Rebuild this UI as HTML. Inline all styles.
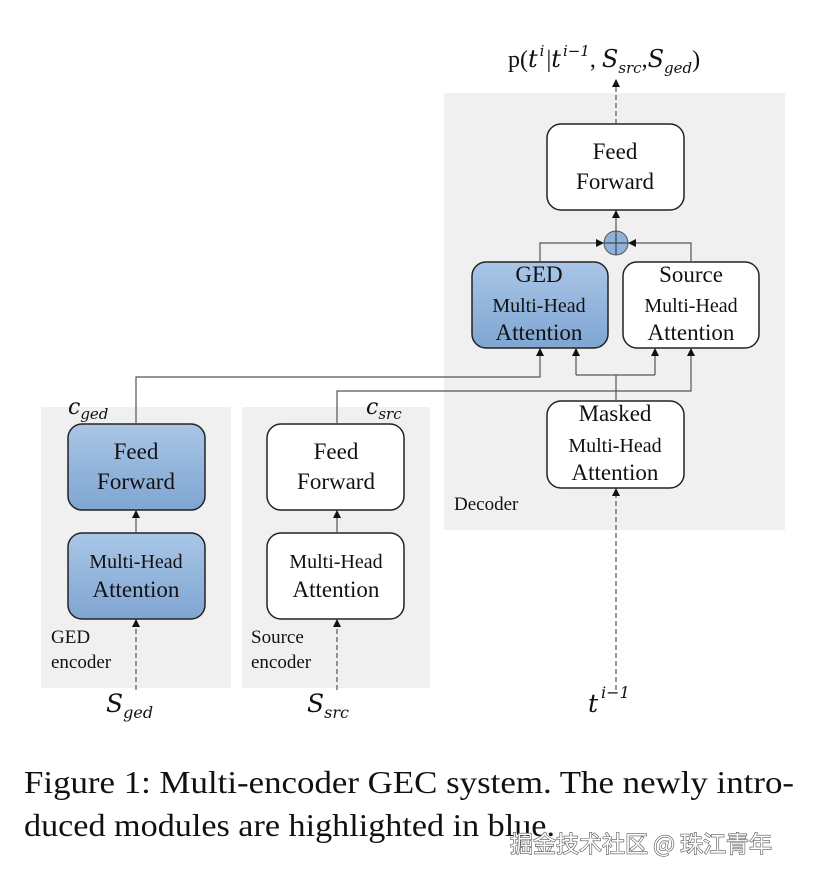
<!DOCTYPE html>
<html><head><meta charset="utf-8"><style>
html,body{margin:0;padding:0;background:#fff;}
svg{display:block;}
text{font-family:"Liberation Serif",serif;fill:#111;}
.m{font-family:"DejaVu Serif","Liberation Serif",serif;font-style:italic;}
</style></head><body>
<svg width="819" height="880" viewBox="0 0 819 880" xmlns="http://www.w3.org/2000/svg">
<defs>
<linearGradient id="bl" x1="0" y1="0" x2="0" y2="1"><stop offset="0" stop-color="#a9c6e6"/><stop offset="1" stop-color="#7fa5d2"/></linearGradient>
<marker id="ar" markerWidth="8" markerHeight="8" refX="7" refY="4" orient="auto" markerUnits="userSpaceOnUse"><path d="M0,0 L8,4 L0,8 z" fill="#111"/></marker>
</defs>
<rect x="41" y="407" width="190" height="281" fill="#f0f0f0"/>
<rect x="242" y="407" width="188" height="281" fill="#f0f0f0"/>
<rect x="444" y="93" width="341" height="437" fill="#f0f0f0"/>
<g stroke="#222" stroke-width="1.5">
<rect x="68" y="424" width="137" height="86" rx="14" fill="url(#bl)"/>
<rect x="68" y="533" width="137" height="86" rx="14" fill="url(#bl)"/>
<rect x="267" y="424" width="137" height="86" rx="14" fill="#fff"/>
<rect x="267" y="533" width="137" height="86" rx="14" fill="#fff"/>
<rect x="547" y="124" width="137" height="86" rx="14" fill="#fff"/>
<rect x="472" y="262" width="136" height="86" rx="14" fill="url(#bl)"/>
<rect x="623" y="262" width="136" height="86" rx="14" fill="#fff"/>
<rect x="547" y="401" width="137" height="87" rx="14" fill="#fff"/>
<circle cx="616" cy="243" r="12" fill="#8fb2da" stroke="#555" stroke-width="1"/>
</g>
<path d="M604,243 H628 M616,231 V255" stroke="#333" stroke-width="1"/>
<g stroke="#555" stroke-width="1.2" fill="none">
<path d="M136,424 V377 H540 V349" marker-end="url(#ar)"/>
<path d="M337,424 V391 H691 V349" marker-end="url(#ar)"/>
<path d="M616,401 V375"/>
<path d="M576,375 H655"/>
<path d="M576,375 V349" marker-end="url(#ar)"/>
<path d="M655,375 V349" marker-end="url(#ar)"/>
<path d="M540,262 V243 H603" marker-end="url(#ar)"/>
<path d="M691,262 V243 H629" marker-end="url(#ar)"/>
<path d="M616,231 V211" marker-end="url(#ar)"/>
<path d="M136,533 V511" marker-end="url(#ar)"/>
<path d="M337,533 V511" marker-end="url(#ar)"/>
</g>
<g stroke="#555" stroke-width="1.2" fill="none" stroke-dasharray="5,3">
<path d="M616,124 V80" marker-end="url(#ar)"/>
<path d="M616,690 V489" marker-end="url(#ar)"/>
<path d="M136,690 V620" marker-end="url(#ar)"/>
<path d="M337,690 V620" marker-end="url(#ar)"/>
</g>
<g text-anchor="middle" font-size="23">
<text x="136" y="459">Feed</text><text x="136" y="489">Forward</text>
<text x="136" y="568" font-size="20">Multi-Head</text><text x="136" y="597">Attention</text>
<text x="336" y="459">Feed</text><text x="336" y="489">Forward</text>
<text x="336" y="568" font-size="20">Multi-Head</text><text x="336" y="597">Attention</text>
<text x="615" y="159">Feed</text><text x="615" y="189">Forward</text>
<text x="539" y="282">GED</text><text x="539" y="312" font-size="20">Multi-Head</text><text x="539" y="340">Attention</text>
<text x="691" y="282">Source</text><text x="691" y="312" font-size="20">Multi-Head</text><text x="691" y="340">Attention</text>
<text x="615" y="421">Masked</text><text x="615" y="452" font-size="20">Multi-Head</text><text x="615" y="480">Attention</text>
</g>
<g font-size="19">
<text x="51" y="643">GED</text><text x="51" y="668">encoder</text>
<text x="251" y="643">Source</text><text x="251" y="668">encoder</text>
<text x="454" y="510">Decoder</text>
</g>
<text x="68" y="414" class="m" font-size="22">c<tspan font-size="15" dy="5">ged</tspan></text>
<text x="366" y="414" class="m" font-size="22">c<tspan font-size="15" dy="5">src</tspan></text>
<text x="106" y="712" class="m" font-size="25">S<tspan font-size="16" dy="6">ged</tspan></text>
<text x="307" y="712" class="m" font-size="25">S<tspan font-size="16" dy="6">src</tspan></text>
<text x="588" y="712" class="m" font-size="25">t<tspan font-size="16" dx="3" dy="-14">i−1</tspan></text>
<text x="508" y="67" font-size="24">p(<tspan class="m">t</tspan><tspan class="m" font-size="15" dx="2" dy="-11">i</tspan><tspan dx="2" dy="11">|</tspan><tspan class="m">t</tspan><tspan class="m" font-size="15" dx="2" dy="-11">i−1</tspan><tspan dy="11">, </tspan><tspan class="m">S</tspan><tspan class="m" font-size="15" dy="6">src</tspan><tspan dy="-6">,</tspan><tspan class="m">S</tspan><tspan class="m" font-size="15" dy="6">ged</tspan><tspan dy="-6">)</tspan></text>
<text x="24" y="793" font-size="32" textLength="770" lengthAdjust="spacingAndGlyphs">Figure 1: Multi-encoder GEC system. The newly intro-</text>
<text x="24" y="836" font-size="32" textLength="531" lengthAdjust="spacingAndGlyphs">duced modules are highlighted in blue.</text>
<text x="510" y="852" font-size="23" fill="#fff" stroke="#555" stroke-width="1.2" paint-order="stroke" style="font-family:'Noto Sans CJK SC',sans-serif;fill:#fff;">掘金技术社区 @ 珠江青年</text>
</svg>
</body></html>
